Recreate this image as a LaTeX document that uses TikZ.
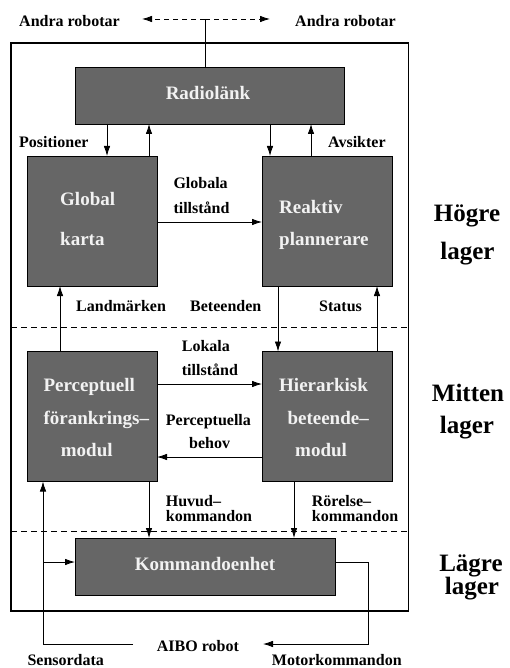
\documentclass[tikz,border=0pt]{standalone}
\usepackage{fontspec}
\setmainfont{Liberation Serif}
\usetikzlibrary{arrows.meta}
\definecolor{boxgray}{RGB}{102,102,102}
\definecolor{boxtext}{RGB}{242,242,242}
\begin{document}
\begin{tikzpicture}[x=1pt,y=-1pt,
  blk/.style={draw=black,fill=boxgray,line width=0.8pt,inner sep=0pt,outer sep=0pt},
  btxt/.style={font=\fontsize{19}{22}\selectfont\bfseries,text=boxtext,inner sep=0pt,anchor=base west},
  lbl/.style={font=\fontsize{16}{18}\selectfont\bfseries,inner sep=0pt,anchor=base west},
  lbltwo/.style={font=\fontsize{16}{14.3}\selectfont\bfseries,inner sep=0pt,anchor=base west,align=left},
  flat/.style={text depth=0pt},
  side/.style={font=\fontsize{25}{28}\selectfont\bfseries,inner sep=0pt,anchor=base},
  conn/.style={line width=0.8pt},
  arr/.style={conn,-{Latex[length=10pt,width=6.5pt]}},
  layer/.style={line width=0.8pt,dash pattern=on 6pt off 4pt}]
\useasboundingbox (0,0) rectangle (509,668);

% outer frame and layer separators
\draw[line width=1.1pt] (11,43) rectangle (408.5,611);
\draw[layer] (11,327) -- (408.5,327);
\draw[layer] (11,531) -- (408.5,531);

% blocks
\node[blk,minimum width=269pt,minimum height=57pt] (radio) at (209.5,95.5) {};
\node[blk,minimum width=130pt,minimum height=130pt] (glob) at (92,221) {};
\node[blk,minimum width=130pt,minimum height=130pt] (reak) at (327,221) {};
\node[blk,minimum width=130pt,minimum height=130pt] (perc) at (92,416.5) {};
\node[blk,minimum width=130pt,minimum height=130pt] (hier) at (327,416.5) {};
\node[blk,minimum width=260pt,minimum height=57pt] (kom) at (205,566.5) {};

% block texts
\node[btxt,anchor=base] (tradio) at (208,100) {Radiolänk};
\node[btxt] (tglob1) at (60,206) {Global};
\node[btxt] (tglob2) at (60,245.7) {karta};
\node[btxt] (treak1) at (279,214) {Reaktiv};
\node[btxt] (treak2) at (279,245.7) {plannerare};
\node[btxt] (tperc1) at (43.3,391.7) {Perceptuell};
\node[btxt] (tperc2) at (43.3,424) {förankrings–};
\node[btxt] (tperc3) at (60.7,456.7) {modul};
\node[btxt] (thier1) at (279,391.7) {Hierarkisk};
\node[btxt] (thier2) at (287.3,424.3) {beteende–};
\node[btxt] (thier3) at (295,456) {modul};
\node[btxt,anchor=base] (tkom) at (205,570.7) {Kommandoenhet};

% small labels
\node[lbl] (andraL) at (19,27) {Andra robotar};
\node[lbl] (andraR) at (295,27) {Andra robotar};
\node[lbl] (pos) at (19,148) {Positioner};
\node[lbl] (avs) at (328,148) {Avsikter};
\node[lbl] (glb1) at (173.3,189) {Globala};
\node[lbl] (glb2) at (173.3,213) {tillstånd};
\node[lbl] (land) at (76,311) {Landmärken};
\node[lbl] (bet) at (190,311) {Beteenden};
\node[lbl] (stat) at (319,311) {Status};
\node[lbl] (lok1) at (181.7,351.7) {Lokala};
\node[lbl] (lok2) at (181.7,375) {tillstånd};
\node[lbl] (pb1) at (165.7,425) {Perceptuella};
\node[lbl] (pb2) at (189,448.3) {behov};
\node[lbltwo] (huv) at (165.7,521) {Huvud–\\kommandon};
\node[lbltwo] (ror) at (311.7,521) {Rörelse–\\kommandon};
\node[lbl] (aibo) at (156.7,651.7) {AIBO robot};
\node[lbl,flat] (sens) at (27.3,665) {Sensordata};
\node[lbl,flat] (motk) at (271.7,665) {Motorkommandon};

% side labels
\node[side] (hog1) at (467,221.5) {Högre};
\node[side] (hog2) at (467.5,259) {lager};
\node[side] (mit1) at (468,401) {Mitten};
\node[side] (mit2) at (467,433.5) {lager};
\node[side] (lag1) at (471,571) {Lägre};
\node[side] (lag2) at (472,594.5) {lager};

% coordinates
\coordinate (top) at (205,19);
\coordinate (topL) at (142,19);
\coordinate (topR) at (270,19);
\coordinate (x1) at (107,0);
\coordinate (x2) at (149,0);
\coordinate (x3) at (270,0);
\coordinate (x4) at (311,0);
\coordinate (x5) at (60,0);
\coordinate (x6) at (278,0);
\coordinate (x7) at (377,0);
\coordinate (x8) at (149,0);
\coordinate (x9) at (294,0);
\coordinate (yg) at (0,222);
\coordinate (yl) at (0,384);
\coordinate (yp) at (0,457);
\coordinate (sx) at (43,644);
\coordinate (sEnd) at (133,644);
\coordinate (sk) at (43,562);
\coordinate (mx) at (368,562);
\coordinate (my) at (368,644);
\coordinate (mEnd) at (263,644);

% top radio link
\draw[conn] (radio.north -| top) -- (top);
\draw[arr,dash pattern=on 5pt off 4pt] (top) -- (topL);
\draw[arr,dash pattern=on 5pt off 4pt] (top) -- (topR);

% radio <-> upper blocks
\draw[arr] (radio.south -| x1) -- (glob.north -| x1);
\draw[arr] (glob.north -| x2) -- (radio.south -| x2);
\draw[arr] (radio.south -| x3) -- (reak.north -| x3);
\draw[arr] (reak.north -| x4) -- (radio.south -| x4);

% upper layer
\draw[arr] (glob.east |- yg) -- (reak.west |- yg);

% between layers
\draw[arr] (perc.north -| x5) -- (glob.south -| x5);
\draw[arr] (reak.south -| x6) -- (hier.north -| x6);
\draw[arr] (hier.north -| x7) -- (reak.south -| x7);

% middle layer
\draw[arr] (perc.east |- yl) -- (hier.west |- yl);
\draw[arr] (hier.west |- yp) -- (perc.east |- yp);

% to command unit
\draw[arr] (perc.south -| x8) -- (kom.north -| x8);
\draw[arr] (hier.south -| x9) -- (kom.north -| x9);

% sensor data
\draw[conn] (sEnd) -- (sx);
\draw[arr] (sx) -- (perc.south -| sx);
\draw[arr] (sk) -- (kom.west |- sk);

% motor commands
\draw[arr] (kom.east |- mx) -- (mx) -- (my) -- (mEnd);
\end{tikzpicture}
\end{document}
